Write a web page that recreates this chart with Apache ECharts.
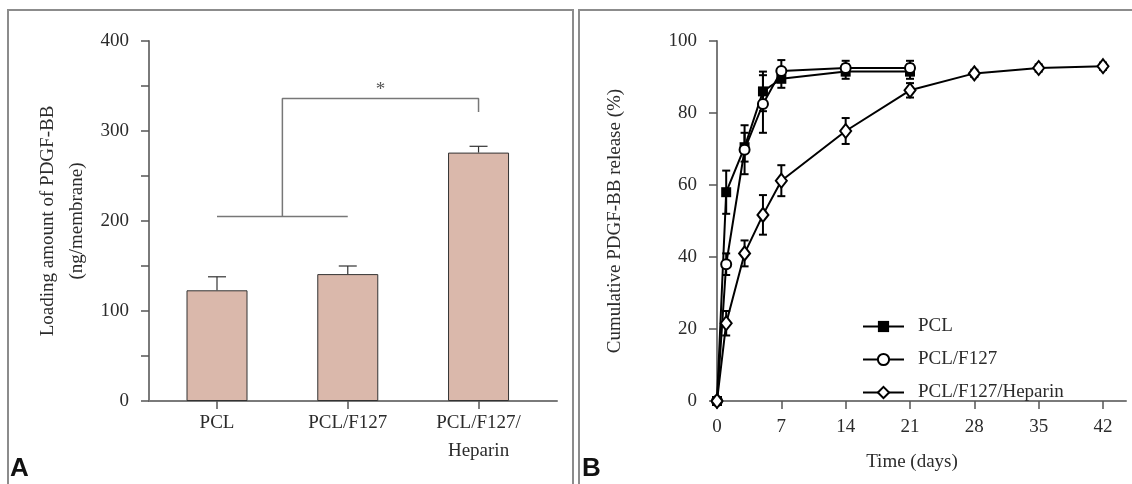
<!DOCTYPE html>
<html>
<head>
<meta charset="utf-8">
<script src="https://cdn.jsdelivr.net/npm/echarts@6/dist/echarts.min.js"></script>
<style>
html, body { margin: 0; padding: 0; background: #fff; }
#main { width: 1132px; height: 484px; }
</style>
</head>
<body>
<div id="main"></div>
<script>
// panel A: loading amount
var groups = ['PCL', 'PCL/F127', 'PCL/F127/\nHeparin'];
var groupPos = [0, 1, 2];
var loading = [123, 141, 276];
var loadingErr = [15, 9, 7];
var bracketLow = [[0, 205], [1, 205]];
var bracketHigh = [[0.5, 205], [0.5, 336], [2, 336], [2, 321]];
var starPos = [[1.25, 346]];

// panel B: cumulative release
var days = [0, 1, 3, 5, 7, 14, 21];
var daysLong = [0, 1, 3, 5, 7, 14, 21, 28, 35, 42];
var pcl = [0, 58, 70.5, 86, 89.5, 91.5, 91.5];
var pclErr = [0, 6, 4, 5.5, 2.5, 2, 2];
var f127 = [0, 38, 69.8, 82.5, 91.7, 92.5, 92.5];
var f127Err = [0, 3, 6.8, 8, 3, 2, 2];
var heparin = [0, 21.6, 41, 51.7, 61.2, 75, 86.3, 91, 92.5, 93];
var heparinErr = [0, 3.4, 3.6, 5.5, 4.3, 3.6, 2, 1, 1, 1];
var dayTicks = [0, 7, 14, 21, 28, 35, 42];

var serif = 'Liberation Serif';
var txt = '#2b2b2b';
var axisGray = '#7a7a7a';

function zip(xs, ys) {
    return xs.map(function (x, i) { return [x, ys[i]]; });
}
function errData(xs, ys, es) {
    var out = [];
    xs.forEach(function (x, i) {
        if (es[i] > 0) out.push([x, ys[i] - es[i], ys[i] + es[i]]);
    });
    return out;
}
// error bar drawer
function errRender(capHalf, width, color, upOnly) {
    return function (params, api) {
        var x = api.value(0);
        var pLo = api.coord([x, api.value(1)]);
        var pHi = api.coord([x, api.value(2)]);
        var st = { stroke: color, lineWidth: width, fill: null };
        var kids = [
            { type: 'line', shape: { x1: pLo[0], y1: pLo[1], x2: pHi[0], y2: pHi[1] }, style: st },
            { type: 'line', shape: { x1: pHi[0] - capHalf, y1: pHi[1], x2: pHi[0] + capHalf, y2: pHi[1] }, style: st }
        ];
        if (!upOnly) {
            kids.push({ type: 'line', shape: { x1: pLo[0] - capHalf, y1: pLo[1], x2: pLo[0] + capHalf, y2: pLo[1] }, style: st });
        }
        return { type: 'group', children: kids };
    };
}

var axisLineStyle = { onZero: false, lineStyle: { color: axisGray, width: 2 } };
var tickStyle = { inside: false, length: 8, lineStyle: { color: '#555', width: 1.5 } };
var labelFont = { fontFamily: serif, fontSize: 19, color: txt };

var myChart = echarts.init(document.getElementById('main'));

var option = {
    animation: false,
    backgroundColor: '#fff',
    graphic: [
        { type: 'rect', shape: { x: 8, y: 10, width: 565, height: 500 }, style: { fill: null, stroke: '#8c8c8c', lineWidth: 2 } },
        { type: 'rect', shape: { x: 579, y: 10, width: 570, height: 500 }, style: { fill: null, stroke: '#8c8c8c', lineWidth: 2 } },
        { type: 'text', left: 10, top: 456, style: { text: 'A', font: 'bold 26px "Liberation Sans"', fill: '#111' } },
        { type: 'text', left: 582, top: 456, style: { text: 'B', font: 'bold 26px "Liberation Sans"', fill: '#111' } }
    ],
    grid: [
        { left: 149, top: 41, width: 408, height: 360 },
        { left: 717, top: 41, width: 409, height: 360 }
    ],
    xAxis: [
        {
            gridIndex: 0,
            type: 'value',
            min: -0.52,
            max: 2.6,
            splitLine: { show: false },
            axisLine: axisLineStyle,
            axisTick: Object.assign({ customValues: groupPos }, tickStyle),
            axisLabel: Object.assign({
                customValues: groupPos,
                margin: 8,
                lineHeight: 28,
                formatter: function (v) { return groups[Math.round(v)]; }
            }, labelFont)
        },
        {
            gridIndex: 1,
            type: 'value',
            min: 0,
            max: 44.5,
            splitLine: { show: false },
            axisLine: axisLineStyle,
            axisTick: Object.assign({ customValues: dayTicks }, tickStyle),
            axisLabel: Object.assign({ customValues: dayTicks, margin: 16, lineHeight: 20 }, labelFont),
            name: 'Time (days)',
            nameLocation: 'middle',
            nameGap: 52,
            nameTextStyle: { fontFamily: serif, fontSize: 19, color: txt, padding: [0, 19, 0, 0] }
        }
    ],
    yAxis: [
        {
            gridIndex: 0,
            type: 'value',
            min: 0,
            max: 400,
            interval: 50,
            splitLine: { show: false },
            axisLine: axisLineStyle,
            axisTick: tickStyle,
            axisLabel: Object.assign({
                margin: 20,
                formatter: function (v) { return v % 100 === 0 ? v : ''; }
            }, labelFont),
            name: 'Loading amount of PDGF-BB\n(ng/membrane)',
            nameLocation: 'middle',
            nameGap: 57,
            nameTextStyle: { fontFamily: serif, fontSize: 19, lineHeight: 29, color: txt }
        },
        {
            gridIndex: 1,
            type: 'value',
            min: 0,
            max: 100,
            interval: 20,
            splitLine: { show: false },
            axisLine: axisLineStyle,
            axisTick: tickStyle,
            axisLabel: Object.assign({ margin: 20 }, labelFont),
            name: 'Cumulative PDGF-BB release (%)',
            nameLocation: 'middle',
            nameGap: 92,
            nameTextStyle: { fontFamily: serif, fontSize: 19, color: txt }
        }
    ],
    legend: {
        orient: 'vertical',
        left: 862,
        top: 317,
        padding: 0,
        itemWidth: 41,
        itemHeight: 14,
        itemGap: 14,
        data: ['PCL', 'PCL/F127', 'PCL/F127/Heparin'],
        textStyle: { fontFamily: serif, fontSize: 19, lineHeight: 19, color: txt, padding: [0, 0, 0, 9] }
    },
    series: [
        // panel A
        {
            type: 'bar',
            xAxisIndex: 0,
            yAxisIndex: 0,
            barWidth: 61,
            data: zip(groupPos, loading),
            itemStyle: { color: '#dab8ab', borderColor: '#333', borderWidth: 1 },
            z: 2
        },
        {
            type: 'custom',
            xAxisIndex: 0,
            yAxisIndex: 0,
            renderItem: errRender(9, 1.2, '#333', true),
            encode: { x: 0, y: [1, 2] },
            data: groupPos.map(function (x, i) { return [x, loading[i], loading[i] + loadingErr[i]]; }),
            z: 3
        },
        {
            type: 'line',
            xAxisIndex: 0,
            yAxisIndex: 0,
            data: bracketLow,
            symbol: 'none',
            lineStyle: { color: '#777', width: 1.5 },
            silent: true
        },
        {
            type: 'line',
            xAxisIndex: 0,
            yAxisIndex: 0,
            data: bracketHigh,
            symbol: 'none',
            lineStyle: { color: '#777', width: 1.5 },
            silent: true
        },
        {
            type: 'scatter',
            xAxisIndex: 0,
            yAxisIndex: 0,
            data: starPos,
            symbolSize: 2,
            itemStyle: { color: 'rgba(0,0,0,0)' },
            label: { show: true, position: 'inside', formatter: '*', fontFamily: serif, fontSize: 19, color: txt }
        },
        // panel B error bars
        {
            type: 'custom',
            xAxisIndex: 1,
            yAxisIndex: 1,
            renderItem: errRender(4, 2, '#000', false),
            encode: { x: 0, y: [1, 2] },
            data: errData(days, pcl, pclErr),
            z: 1
        },
        {
            type: 'custom',
            xAxisIndex: 1,
            yAxisIndex: 1,
            renderItem: errRender(4, 2, '#000', false),
            encode: { x: 0, y: [1, 2] },
            data: errData(days, f127, f127Err),
            z: 1
        },
        {
            type: 'custom',
            xAxisIndex: 1,
            yAxisIndex: 1,
            renderItem: errRender(4, 2, '#000', false),
            encode: { x: 0, y: [1, 2] },
            data: errData(daysLong, heparin, heparinErr),
            z: 1
        },
        // panel B curves
        {
            name: 'PCL',
            type: 'line',
            xAxisIndex: 1,
            yAxisIndex: 1,
            data: zip(days, pcl),
            symbol: 'rect',
            symbolSize: 10,
            itemStyle: { color: '#000' },
            lineStyle: { color: '#000', width: 2 },
            z: 3
        },
        {
            name: 'PCL/F127',
            type: 'line',
            xAxisIndex: 1,
            yAxisIndex: 1,
            data: zip(days, f127),
            symbol: 'circle',
            symbolSize: 10,
            itemStyle: { color: '#fff', borderColor: '#000', borderWidth: 2 },
            lineStyle: { color: '#000', width: 2 },
            z: 4
        },
        {
            name: 'PCL/F127/Heparin',
            type: 'line',
            xAxisIndex: 1,
            yAxisIndex: 1,
            data: zip(daysLong, heparin),
            symbol: 'diamond',
            symbolSize: [11, 14],
            itemStyle: { color: '#fff', borderColor: '#000', borderWidth: 2 },
            lineStyle: { color: '#000', width: 2 },
            z: 5
        }
    ]
};

if (option && typeof option === 'object') {
    myChart.setOption(option, true);
}
</script>
</body>
</html>
